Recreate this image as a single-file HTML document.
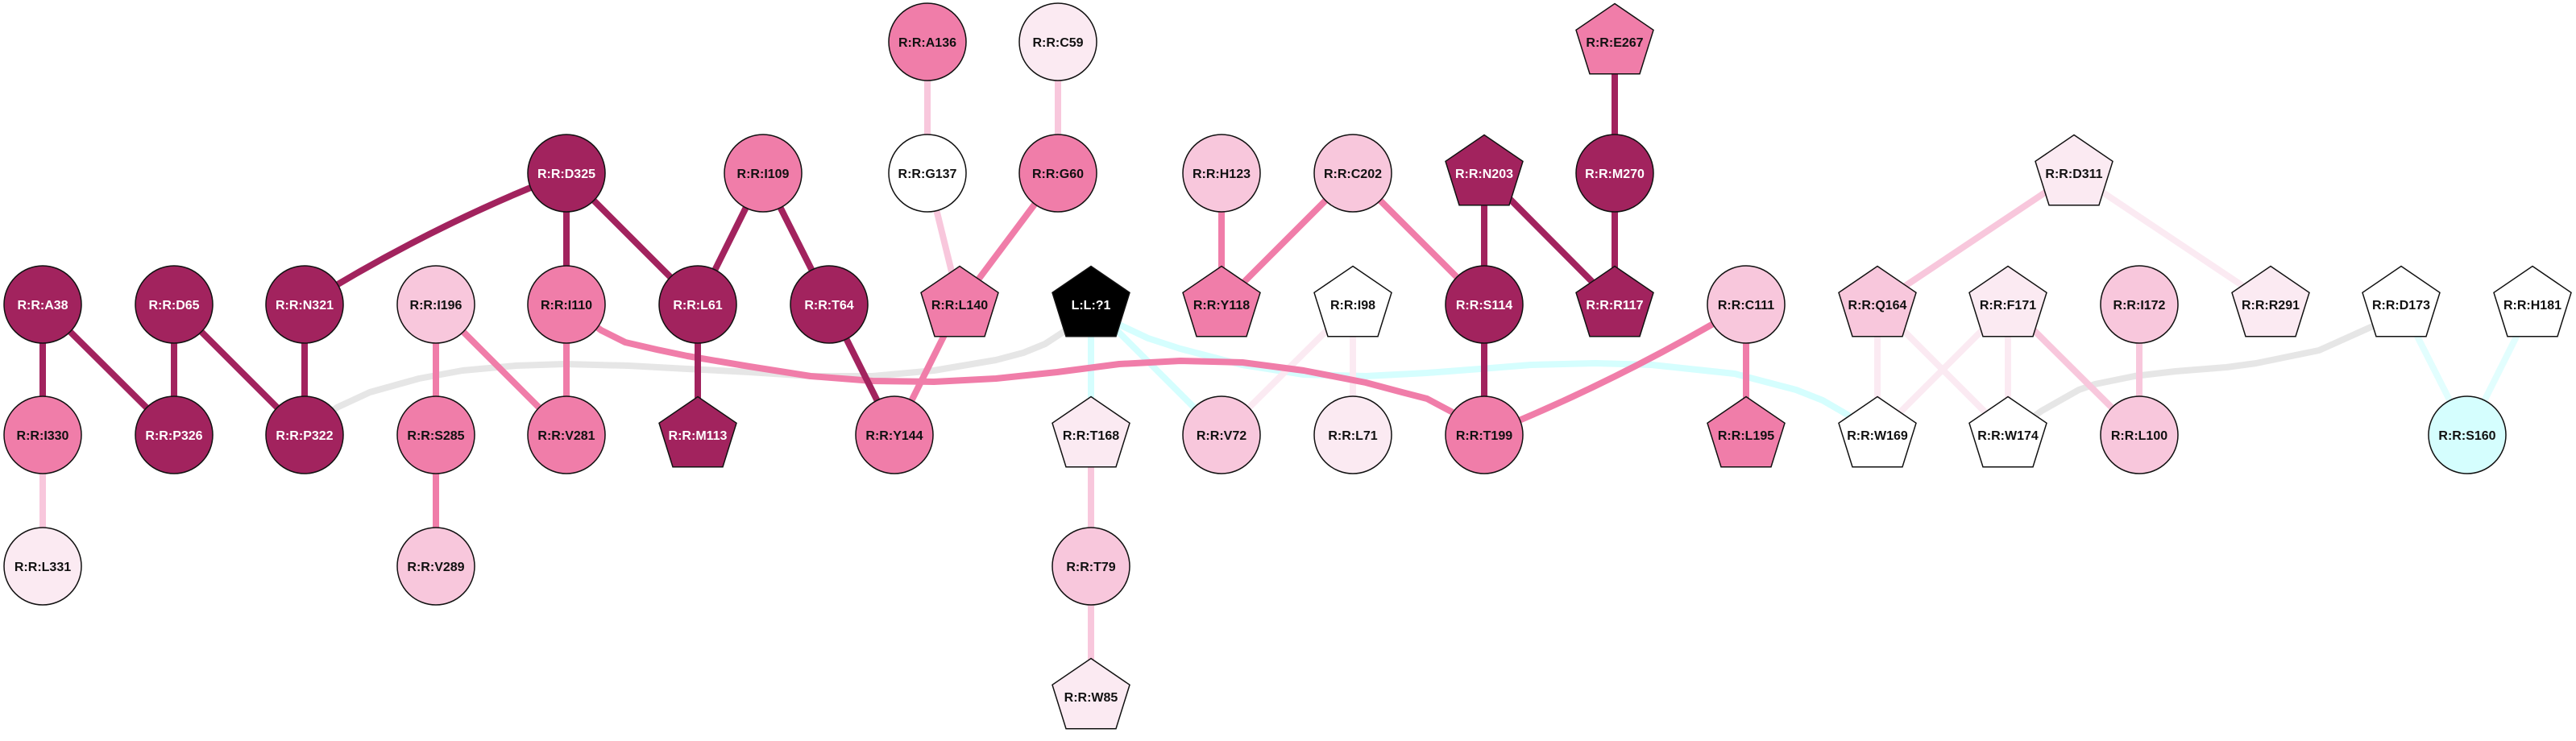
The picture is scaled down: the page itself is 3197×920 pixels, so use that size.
<!DOCTYPE html>
<html><head><meta charset="utf-8"><style>
html,body{margin:0;padding:0;background:#fff;}
svg{display:block;}
text{font-family:"Liberation Sans",Arial,sans-serif;font-weight:bold;font-size:16px;text-anchor:middle;}
.w{fill:#fff;} .b{fill:#111;}
.n{stroke:#111;stroke-width:1.5;}
.e{fill:none;stroke-width:8;stroke-linecap:butt;stroke-linejoin:round;}
</style></head><body>
<svg width="3197" height="920" viewBox="0 0 3197 920" xmlns="http://www.w3.org/2000/svg">
<!-- edges -->
<g class="e">
<!-- gray curves -->
<path stroke="#e6e6e6" d="M378,540 L400,520 L418,506 L459,487 L520,470 L574,460 L640,454 L701,452 L780,454 L853,458 L930,462 L1006,467 L1083,467 L1159,460 L1236,447 L1270,438 L1297,427 L1323,410 L1354,378"/>
<path stroke="#e6e6e6" d="M2980,378 L2947,404 L2878,435 L2800,451 L2763,456 L2700,461 L2649,467 L2600,477 L2580,484 L2534,510 L2492,540"/>
<!-- cyan -->
<path stroke="#d5fefe" d="M1354,378 L1389,403 L1425,420 L1465,433 L1542,453 L1618,465 L1695,467 L1771,463 L1850,457 L1900,453 L1980,451 L2050,453 L2153,464 L2229,484 L2262,497 L2293,515 L2329,540"/>
<path stroke="#d5fefe" d="M1354,378 L1354,540"/>
<path stroke="#d5fefe" d="M1354,378 L1516,540"/>
<path stroke="#e2fefe" d="M2980,378 L3062,540"/>
<path stroke="#e2fefe" d="M3143,378 L3062,540"/>
<!-- very light -->
<path stroke="#fbeaf2" d="M1679,378 L1516,540"/>
<path stroke="#fbeaf2" d="M1679,378 L1679,540"/>
<path stroke="#fbeaf2" d="M2574,215 L2818,378"/>
<path stroke="#fbeaf2" d="M2330,378 L2330,540"/>
<path stroke="#fbeaf2" d="M2330,378 L2492,540"/>
<path stroke="#fbeaf2" d="M2492,378 L2330,540"/>
<path stroke="#fbeaf2" d="M2492,378 L2492,540"/>
<!-- light -->
<path stroke="#f8c7dc" d="M53,540 L53,703"/>
<path stroke="#f8c7dc" d="M1151,52 L1151,215"/>
<path stroke="#f8c7dc" d="M1313,52 L1313,215"/>
<path stroke="#f8c7dc" d="M1151,215 L1191,378"/>
<path stroke="#f8c7dc" d="M1354,540 L1354,703"/>
<path stroke="#f8c7dc" d="M1354,703 L1354,865"/>
<path stroke="#f8c7dc" d="M2574,215 L2330,378"/>
<path stroke="#f8c7dc" d="M2492,378 L2655,540"/>
<path stroke="#f8c7dc" d="M2655,378 L2655,540"/>
<!-- medium -->
<path stroke="#f07da9" d="M703,378 L703,540"/>
<path stroke="#f07da9" d="M541,378 L541,540"/>
<path stroke="#f07da9" d="M541,378 L703,540"/>
<path stroke="#f07da9" d="M541,540 L541,703"/>
<path stroke="#f07da9" d="M703,378 L746,410 L776,425 L815,434 L853,442 L930,455 L1006,467 L1083,473 L1159,474 L1236,470 L1312,462 L1389,452 L1465,448 L1542,450 L1618,460 L1695,475 L1740,487 L1771,495 L1803,512 L1842,540"/>
<path stroke="#f07da9" d="M1313,215 L1191,378"/>
<path stroke="#f07da9" d="M1191,378 L1110,540"/>
<path stroke="#f07da9" d="M1516,215 L1516,378"/>
<path stroke="#f07da9" d="M1679,215 L1516,378"/>
<path stroke="#f07da9" d="M1679,215 L1842,378"/>
<path stroke="#f07da9" d="M2167,378 Q2011,472 1842,540"/>
<path stroke="#f07da9" d="M2167,378 L2167,540"/>
<!-- dark -->
<path stroke="#a2235e" d="M53,378 L53,540"/>
<path stroke="#a2235e" d="M53,378 L216,540"/>
<path stroke="#a2235e" d="M216,378 L216,540"/>
<path stroke="#a2235e" d="M216,378 L378,540"/>
<path stroke="#a2235e" d="M378,378 L378,540"/>
<path stroke="#a2235e" d="M378,378 Q533,281 703,215"/>
<path stroke="#a2235e" d="M703,215 L703,378"/>
<path stroke="#a2235e" d="M703,215 L866,378"/>
<path stroke="#a2235e" d="M947,215 L866,378"/>
<path stroke="#a2235e" d="M947,215 L1029,378"/>
<path stroke="#a2235e" d="M866,378 L866,540"/>
<path stroke="#a2235e" d="M1029,378 L1110,540"/>
<path stroke="#a2235e" d="M1842,215 L1842,540"/>
<path stroke="#a2235e" d="M1842,215 L2004,378"/>
<path stroke="#a2235e" d="M2004,52 L2004,378"/>
</g>

<!-- circle nodes -->
<g class="n">
<circle cx="1151" cy="52" r="48" fill="#f07da9"/>
<circle cx="1313" cy="52" r="48" fill="#fbeaf2"/>
<circle cx="703" cy="215" r="48" fill="#a2235e"/>
<circle cx="947" cy="215" r="48" fill="#f07da9"/>
<circle cx="1151" cy="215" r="48" fill="#ffffff"/>
<circle cx="1313" cy="215" r="48" fill="#f07da9"/>
<circle cx="1516" cy="215" r="48" fill="#f8c7dc"/>
<circle cx="1679" cy="215" r="48" fill="#f8c7dc"/>
<circle cx="2004" cy="215" r="48" fill="#a2235e"/>
<circle cx="53" cy="378" r="48" fill="#a2235e"/>
<circle cx="216" cy="378" r="48" fill="#a2235e"/>
<circle cx="378" cy="378" r="48" fill="#a2235e"/>
<circle cx="541" cy="378" r="48" fill="#f8c7dc"/>
<circle cx="703" cy="378" r="48" fill="#f07da9"/>
<circle cx="866" cy="378" r="48" fill="#a2235e"/>
<circle cx="1029" cy="378" r="48" fill="#a2235e"/>
<circle cx="1842" cy="378" r="48" fill="#a2235e"/>
<circle cx="2167" cy="378" r="48" fill="#f8c7dc"/>
<circle cx="2655" cy="378" r="48" fill="#f8c7dc"/>
<circle cx="53" cy="540" r="48" fill="#f07da9"/>
<circle cx="216" cy="540" r="48" fill="#a2235e"/>
<circle cx="378" cy="540" r="48" fill="#a2235e"/>
<circle cx="541" cy="540" r="48" fill="#f07da9"/>
<circle cx="703" cy="540" r="48" fill="#f07da9"/>
<circle cx="1110" cy="540" r="48" fill="#f07da9"/>
<circle cx="1516" cy="540" r="48" fill="#f8c7dc"/>
<circle cx="1679" cy="540" r="48" fill="#fbeaf2"/>
<circle cx="1842" cy="540" r="48" fill="#f07da9"/>
<circle cx="2655" cy="540" r="48" fill="#f8c7dc"/>
<circle cx="3062" cy="540" r="48" fill="#d5fefe"/>
<circle cx="53" cy="703" r="48" fill="#fbeaf2"/>
<circle cx="541" cy="703" r="48" fill="#f8c7dc"/>
<circle cx="1354" cy="703" r="48" fill="#f8c7dc"/>
</g>

<!-- pentagon nodes -->
<g class="n">
<polygon transform="translate(2004,52)" fill="#f07da9" points="0,-47.5 48,-14.7 31,39.7 -31,39.7 -48,-14.7"/>
<polygon transform="translate(1842,215)" fill="#a2235e" points="0,-47.5 48,-14.7 31,39.7 -31,39.7 -48,-14.7"/>
<polygon transform="translate(2574,215)" fill="#fbeaf2" points="0,-47.5 48,-14.7 31,39.7 -31,39.7 -48,-14.7"/>
<polygon transform="translate(1191,378)" fill="#f07da9" points="0,-47.5 48,-14.7 31,39.7 -31,39.7 -48,-14.7"/>
<polygon transform="translate(1354,378)" fill="#000000" points="0,-47.5 48,-14.7 31,39.7 -31,39.7 -48,-14.7"/>
<polygon transform="translate(1516,378)" fill="#f07da9" points="0,-47.5 48,-14.7 31,39.7 -31,39.7 -48,-14.7"/>
<polygon transform="translate(1679,378)" fill="#ffffff" points="0,-47.5 48,-14.7 31,39.7 -31,39.7 -48,-14.7"/>
<polygon transform="translate(2004,378)" fill="#a2235e" points="0,-47.5 48,-14.7 31,39.7 -31,39.7 -48,-14.7"/>
<polygon transform="translate(2330,378)" fill="#f8c7dc" points="0,-47.5 48,-14.7 31,39.7 -31,39.7 -48,-14.7"/>
<polygon transform="translate(2492,378)" fill="#fbeaf2" points="0,-47.5 48,-14.7 31,39.7 -31,39.7 -48,-14.7"/>
<polygon transform="translate(2818,378)" fill="#fbeaf2" points="0,-47.5 48,-14.7 31,39.7 -31,39.7 -48,-14.7"/>
<polygon transform="translate(2980,378)" fill="#ffffff" points="0,-47.5 48,-14.7 31,39.7 -31,39.7 -48,-14.7"/>
<polygon transform="translate(3143,378)" fill="#ffffff" points="0,-47.5 48,-14.7 31,39.7 -31,39.7 -48,-14.7"/>
<polygon transform="translate(866,540)" fill="#a2235e" points="0,-47.5 48,-14.7 31,39.7 -31,39.7 -48,-14.7"/>
<polygon transform="translate(1354,540)" fill="#fbeaf2" points="0,-47.5 48,-14.7 31,39.7 -31,39.7 -48,-14.7"/>
<polygon transform="translate(2167,540)" fill="#f07da9" points="0,-47.5 48,-14.7 31,39.7 -31,39.7 -48,-14.7"/>
<polygon transform="translate(2330,540)" fill="#ffffff" points="0,-47.5 48,-14.7 31,39.7 -31,39.7 -48,-14.7"/>
<polygon transform="translate(2492,540)" fill="#ffffff" points="0,-47.5 48,-14.7 31,39.7 -31,39.7 -48,-14.7"/>
<polygon transform="translate(1354,865)" fill="#fbeaf2" points="0,-47.5 48,-14.7 31,39.7 -31,39.7 -48,-14.7"/>
</g>

<!-- labels -->
<g>
<text class="b" x="1151" y="58">R:R:A136</text>
<text class="b" x="1313" y="58">R:R:C59</text>
<text class="b" x="2004" y="58">R:R:E267</text>
<text class="w" x="703" y="221">R:R:D325</text>
<text class="b" x="947" y="221">R:R:I109</text>
<text class="b" x="1151" y="221">R:R:G137</text>
<text class="b" x="1313" y="221">R:R:G60</text>
<text class="b" x="1516" y="221">R:R:H123</text>
<text class="b" x="1679" y="221">R:R:C202</text>
<text class="w" x="1842" y="221">R:R:N203</text>
<text class="w" x="2004" y="221">R:R:M270</text>
<text class="b" x="2574" y="221">R:R:D311</text>
<text class="w" x="53" y="384">R:R:A38</text>
<text class="w" x="216" y="384">R:R:D65</text>
<text class="w" x="378" y="384">R:R:N321</text>
<text class="b" x="541" y="384">R:R:I196</text>
<text class="b" x="703" y="384">R:R:I110</text>
<text class="w" x="866" y="384">R:R:L61</text>
<text class="w" x="1029" y="384">R:R:T64</text>
<text class="b" x="1191" y="384">R:R:L140</text>
<text class="w" x="1354" y="384">L:L:?1</text>
<text class="b" x="1516" y="384">R:R:Y118</text>
<text class="b" x="1679" y="384">R:R:I98</text>
<text class="w" x="1842" y="384">R:R:S114</text>
<text class="w" x="2004" y="384">R:R:R117</text>
<text class="b" x="2167" y="384">R:R:C111</text>
<text class="b" x="2330" y="384">R:R:Q164</text>
<text class="b" x="2492" y="384">R:R:F171</text>
<text class="b" x="2655" y="384">R:R:I172</text>
<text class="b" x="2818" y="384">R:R:R291</text>
<text class="b" x="2980" y="384">R:R:D173</text>
<text class="b" x="3143" y="384">R:R:H181</text>
<text class="b" x="53" y="546">R:R:I330</text>
<text class="w" x="216" y="546">R:R:P326</text>
<text class="w" x="378" y="546">R:R:P322</text>
<text class="b" x="541" y="546">R:R:S285</text>
<text class="b" x="703" y="546">R:R:V281</text>
<text class="w" x="866" y="546">R:R:M113</text>
<text class="b" x="1110" y="546">R:R:Y144</text>
<text class="b" x="1354" y="546">R:R:T168</text>
<text class="b" x="1516" y="546">R:R:V72</text>
<text class="b" x="1679" y="546">R:R:L71</text>
<text class="b" x="1842" y="546">R:R:T199</text>
<text class="b" x="2167" y="546">R:R:L195</text>
<text class="b" x="2330" y="546">R:R:W169</text>
<text class="b" x="2492" y="546">R:R:W174</text>
<text class="b" x="2655" y="546">R:R:L100</text>
<text class="b" x="3062" y="546">R:R:S160</text>
<text class="b" x="53" y="709">R:R:L331</text>
<text class="b" x="541" y="709">R:R:V289</text>
<text class="b" x="1354" y="709">R:R:T79</text>
<text class="b" x="1354" y="871">R:R:W85</text>
</g>
</svg>
</body></html>
